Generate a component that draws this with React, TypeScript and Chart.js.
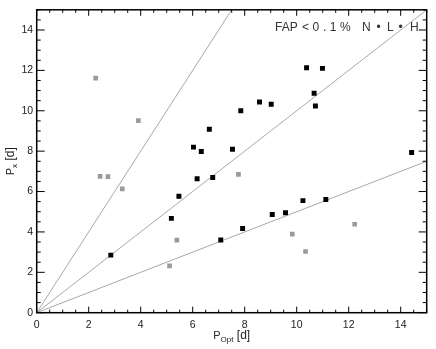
import React, { useEffect, useRef } from "react";
import { Chart, registerables } from "chart.js";

Chart.register(...registerables);

// Strong detections (black squares)
const blackX = [2.85, 5.18, 5.47, 6.17, 6.77, 6.03, 6.33, 6.64, 7.53, 7.85, 8.57, 9.02, 10.38, 10.99, 10.67, 10.72, 14.42, 7.08, 7.92, 9.06, 9.57, 10.24, 11.12];
const blackY = [2.85, 4.67, 5.77, 6.63, 6.70, 8.20, 7.98, 9.08, 8.09, 10.0, 10.43, 10.32, 12.13, 12.10, 10.87, 10.24, 7.93, 3.60, 4.17, 4.86, 4.95, 5.55, 5.61];

// Weaker detections (gray squares)
const grayX = [2.27, 3.91, 2.44, 2.74, 3.29, 7.76, 5.39, 5.11, 9.83, 10.34, 12.23];
const grayY = [11.62, 9.51, 6.75, 6.74, 6.13, 6.85, 3.59, 2.32, 3.89, 3.03, 4.38];

// Reference lines from origin (Px = 2 Popt, Px = Popt, Px = Popt/2)
const lineEndX = [7.5, 15, 15];
const lineEndY = [15, 15, 7.5];

const xTicks = [0, 2, 4, 6, 8, 10, 12, 14];
const yTicks = [0, 2, 4, 6, 8, 10, 12, 14];
const legendParts = ["FAP", "<0.1%", "N", "\u2022", "L", "\u2022", "H"];

const FONT = "'Liberation Sans', Arial, Helvetica, sans-serif";

const framePlugin = {
  id: "frameTicks",
  afterDatasetsDraw(chart: any) {
    const { ctx, chartArea, scales } = chart;
    const { left, right, top, bottom } = chartArea;
    const x = scales.x;
    const y = scales.y;
    ctx.save();
    ctx.strokeStyle = "#000";
    ctx.lineWidth = 1;
    const seg = (a: number, b: number, c: number, d: number) => {
      ctx.beginPath();
      ctx.moveTo(a, b);
      ctx.lineTo(c, d);
      ctx.stroke();
    };
    for (let i = 0; i <= 30; i++) {
      const v = i * 0.5;
      const major = i % 4 === 0;
      const px = x.getPixelForValue(v);
      const xl = major ? 6 : 3;
      seg(px, bottom, px, bottom - xl);
      seg(px, top, px, top + xl);
      const py = y.getPixelForValue(v);
      const yl = major ? 8 : 4;
      seg(left, py, left + yl, py);
      seg(right, py, right - yl, py);
    }
    ctx.lineWidth = 1.5;
    ctx.strokeRect(left, top, right - left, bottom - top);
    ctx.restore();
  },
  afterDraw(chart: any) {
    const { ctx, chartArea } = chart;
    const { left, right, top, bottom } = chartArea;
    ctx.save();
    ctx.fillStyle = "#222";
    ctx.textBaseline = "alphabetic";
    const drawTitle = (cx: number, cy: number, sub: string) => {
      ctx.font = `11px ${FONT}`;
      const wP = ctx.measureText("P").width;
      ctx.font = `8px ${FONT}`;
      const wS = ctx.measureText(sub).width;
      ctx.font = `12px ${FONT}`;
      const wD = ctx.measureText(" [d]").width;
      let sx = cx - (wP + wS + wD) / 2;
      ctx.textAlign = "left";
      ctx.font = `11px ${FONT}`;
      ctx.fillText("P", sx, cy);
      sx += wP;
      ctx.font = `8px ${FONT}`;
      ctx.fillText(sub, sx, cy + 2.5);
      sx += wS;
      ctx.font = `12px ${FONT}`;
      ctx.fillText(" [d]", sx, cy);
    };
    drawTitle((left + right) / 2, 339, "Opt");
    ctx.save();
    ctx.translate(14, (top + bottom) / 2);
    ctx.rotate(-Math.PI / 2);
    drawTitle(0, 0, "x");
    ctx.restore();

    // legend text, laid out word by word
    ctx.fillStyle = "#333";
    ctx.font = `12px ${FONT}`;
    ctx.textAlign = "left";
    const xs = [275, 302, 362, 376.5, 387, 398.5, 410];
    const spacing = [0, 3.6, 0, 0, 0, 0, 0];
    legendParts.forEach((t, i) => {
      (ctx as any).letterSpacing = `${spacing[i]}px`;
      ctx.fillText(t, xs[i], 31);
    });
    (ctx as any).letterSpacing = "0px";
    ctx.restore();
  },
};

export default function App() {
  const ref = useRef<HTMLCanvasElement | null>(null);
  useEffect(() => {
    if (!ref.current) return;
    const lineSets = lineEndX.map((ex, i) => ({
      type: "line" as const,
      data: [
        { x: 0, y: 0 },
        { x: ex, y: lineEndY[i] },
      ],
      borderColor: "#a8a8a8",
      borderWidth: 1,
      pointRadius: 0,
      showLine: true,
      fill: false,
      order: 3,
    }));
    const chart = new Chart(ref.current, {
      type: "scatter",
      data: {
        datasets: [
          ...lineSets,
          {
            data: grayX.map((v, i) => ({ x: v, y: grayY[i] })),
            backgroundColor: "#9a9a9a",
            borderWidth: 0,
            pointStyle: "rect",
            pointRadius: 3.3,
            order: 2,
          },
          {
            data: blackX.map((v, i) => ({ x: v, y: blackY[i] })),
            backgroundColor: "#000",
            borderWidth: 0,
            pointStyle: "rect",
            pointRadius: 3.5,
            order: 1,
          },
        ] as any,
      },
      options: {
        animation: false,
        responsive: false,
        devicePixelRatio: 1,
        layout: { padding: { top: 1.5, right: 9.3, left: 0, bottom: 0 } },
        plugins: {
          legend: { display: false },
          tooltip: { enabled: false },
          title: { display: false },
        },
        scales: {
          x: {
            type: "linear",
            min: 0,
            max: 15,
            grid: { display: false, drawTicks: false },
            border: { display: false },
            ticks: {
              autoSkip: false,
              maxRotation: 0,
              padding: 6,
              color: "#222",
              font: { family: FONT, size: 10.5 },
              callback: (v: any) => String(v),
            },
            afterBuildTicks: (s: any) => {
              s.ticks = xTicks.map((v) => ({ value: v }));
            },
            afterFit: (s: any) => {
              s.height = 36.3;
            },
          },
          y: {
            type: "linear",
            min: 0,
            max: 15,
            grid: { display: false, drawTicks: false },
            border: { display: false },
            ticks: {
              autoSkip: false,
              padding: 3.5,
              color: "#222",
              font: { family: FONT, size: 10.5 },
              callback: (v: any) => String(v),
            },
            afterBuildTicks: (s: any) => {
              s.ticks = yTicks.map((v) => ({ value: v }));
            },
            afterFit: (s: any) => {
              s.width = 36.7;
            },
          },
        },
      } as any,
      plugins: [framePlugin],
    });
    return () => chart.destroy();
  }, []);
  return (
    <div style={{ position: "absolute", left: 0, top: 0, width: 436, height: 349, background: "#fff" }}>
      <canvas ref={ref} width={436} height={349} style={{ display: "block" }} />
    </div>
  );
}
